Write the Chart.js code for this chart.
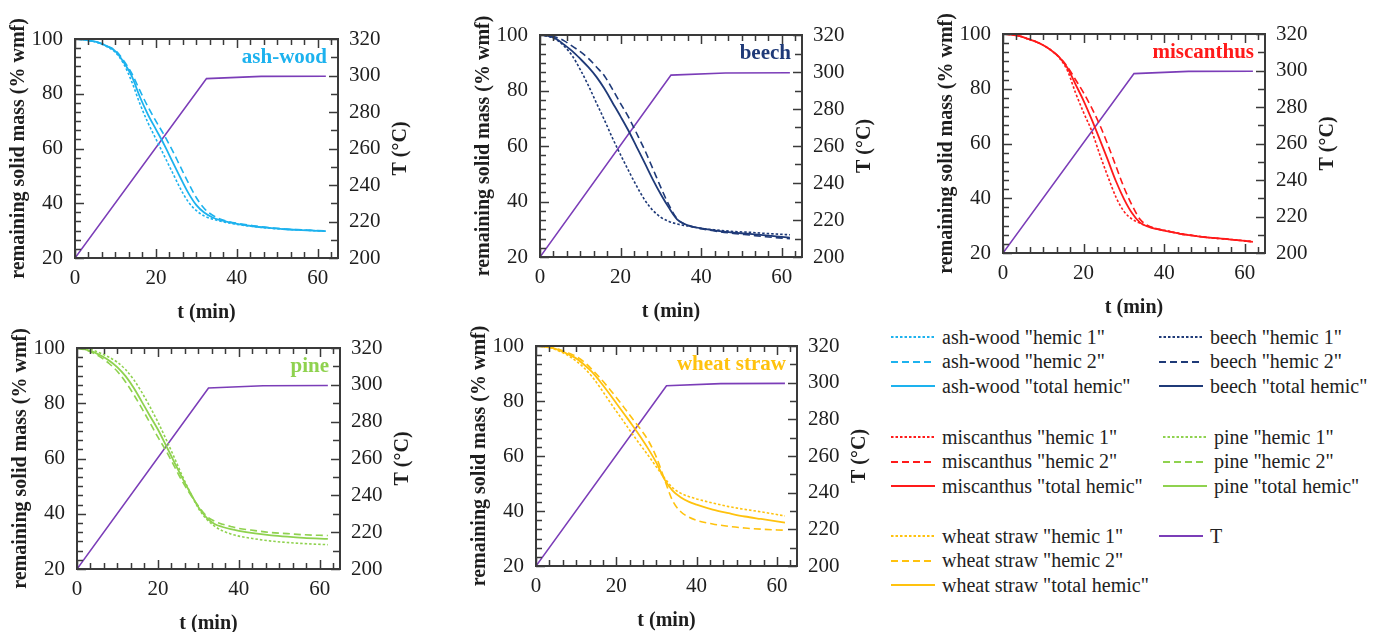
<!DOCTYPE html>
<html><head><meta charset="utf-8">
<script src="https://cdn.jsdelivr.net/npm/chart.js@4.4.1/dist/chart.umd.min.js"></script>
<style>
html,body{margin:0;padding:0;background:#fff;}
body{width:1382px;height:632px;position:relative;overflow:hidden;font-family:'Liberation Serif',serif;}
.lg{position:absolute;height:24px;display:flex;align-items:center;white-space:nowrap;font-size:20px;color:#222;font-family:'Liberation Serif',serif;}
.lg svg{flex:none;}
.lg span{margin-left:7px;}
</style></head>
<body>
<script>
// ---- data ----
const tGrid = [0,2,4,6,8,10,12,14,16,18,20,22,24,26,28,30,32,34,36,38,40,44,48,52,56,62];

const ashHemic1 = [100,99.8,99.3,98.5,97.1,95.1,91,84.5,76.5,69.5,63.5,57.5,51.5,45.5,40.5,37.3,35.3,34.2,33.4,32.8,32.3,31.5,30.9,30.5,30.2,29.8];
const ashHemic2 = [100,99.8,99.3,98.6,97.4,95.8,92.2,87.5,81.3,75.3,70,65,59.5,53.5,47.5,42,38,35.6,34.2,33.3,32.7,31.8,31.1,30.6,30.3,29.9];
const ashTotal  = [100,99.8,99.3,98.6,97.3,95.5,91.6,86.5,79,72.5,67,61.5,55.5,49.5,43.8,39.3,36.5,34.8,33.8,33.1,32.5,31.6,31,30.5,30.2,29.8];

const beechHemic1 = [100,99.5,98.4,96,92.5,87.5,81.8,75.5,69.3,62.8,56.8,51,45.5,40.5,36.8,34.3,32.8,31.9,31.3,30.8,30.3,29.7,29.2,28.9,28.5,28];
const beechHemic2 = [100,99.8,99.2,97.9,96,94,91.6,88.5,85.2,80.4,75.3,70.3,64.5,58.5,51.8,45,38.7,33.8,31.8,30.8,30.2,29.2,28.5,27.9,27.3,26.6];
const beechTotal  = [100,99.7,98.6,96.5,94.2,91.4,88.4,84.9,80.6,75.6,70.6,65.4,59.6,53.8,47.9,42.5,37.7,33.6,31.8,30.9,30.3,29.4,28.8,28.3,27.8,27];

const miscHemic1 = [100,99.8,99.3,98.3,97.3,95.9,94,91.2,86.6,78.5,71.3,64.6,56,48,40.5,35.2,32.4,30.9,29.8,28.9,28.3,27.1,26.2,25.5,25,24.2];
const miscHemic2 = [100,99.8,99.3,98.3,97.3,95.9,94,91.5,88,83.3,78.5,73,66.8,59.6,51.8,44,37.5,32.3,30,28.9,28.2,27,26.2,25.5,25,24.1];
const miscTotal  = [100,99.8,99.3,98.3,97.3,95.9,94,91.5,87.6,81.6,75.6,68.8,61.5,54,46.3,39.8,34.6,31.1,29.6,28.8,28.2,27,26.2,25.5,25,24.1];

const pineHemic1 = [100,99.8,99.2,98,96.6,94.8,92.2,88.6,84,78.8,73.2,67,60.5,53.8,47.6,42,38.1,35.5,33.8,32.7,31.9,30.9,30.1,29.6,29.2,28.8];
const pineHemic2 = [100,99.3,98.2,96.5,94.3,91.5,87.7,83.2,78.2,73,67.7,62.8,57.3,51.8,47,42.8,39.2,37.3,36.2,35.4,34.7,33.9,33.2,32.8,32.4,32.1];
const pineTotal  = [100,99.5,98.6,97.2,95.4,93,89.8,85.6,80.6,75.5,70.5,64.7,58.8,53,47.6,42.4,38.6,36.3,35.2,34.4,33.8,32.9,32.2,31.7,31.3,30.9];

const wheatHemic1 = [100,99.8,99.2,98,96.5,94.5,92,88.8,84.8,80.5,76.3,72.2,68,64,60.1,56,52,48.5,46.5,45.3,44.4,42.9,41.6,40.6,39.7,38.2];
const wheatHemic2 = [100,99.8,99.4,98.6,97.5,96.2,94.2,91.4,88.3,84.9,81.3,77.5,73.6,69.8,65.5,59.5,51.5,43.8,39.8,37.8,36.6,35.3,34.4,33.8,33.4,33];
const wheatTotal  = [100,99.8,99.3,98.3,97,95.5,93.2,90.5,87,83.2,79.2,75.2,71.2,67,62.5,57.5,51.5,47.4,45,43.4,42.3,40.5,39.2,38,37.1,35.8];

const tempTime  = [0,32.5,46,62];
const tempValue = [200,298.3,299.5,299.6];

const xTickValues    = [0,20,40,60];
const massTickValues = [20,40,60,80,100];
const tempTickValues = [200,220,240,260,280,300,320];

const materials  = ['ash-wood','beech','miscanthus','pine','wheat straw'];
const components = ['"hemic 1"','"hemic 2"','"total hemic"'];

// ---- styles ----
const colors = {'ash-wood':'#1db2ee','beech':'#1f3a78','miscanthus':'#ff1a1a','pine':'#8fd24f','wheat straw':'#ffc20e'};
const tempColor = '#7b3db8';
const dashes = [[2.5,2],[7,4],[]];
const frameColor = '#3a3a3a';
const textColor = '#1e1e1e';
const FONT = "'Liberation Serif', serif";

const series = {
  'ash-wood':[ashHemic1,ashHemic2,ashTotal],
  'beech':[beechHemic1,beechHemic2,beechTotal],
  'miscanthus':[miscHemic1,miscHemic2,miscTotal],
  'pine':[pineHemic1,pineHemic2,pineTotal],
  'wheat straw':[wheatHemic1,wheatHemic2,wheatTotal]
};

// plot rectangles in page pixels [left, top, right, bottom]
const layoutRects = {
  'ash-wood':[75,39,338,258],
  'beech':[540,35,802,257],
  'miscanthus':[1003,34,1265,253],
  'pine':[77,348,340,569],
  'wheat straw':[536,346,797,566]
};

const decor = {
  id:'decor',
  afterDatasetsDraw(chart, args, opts){
    const {ctx, chartArea:a, scales} = chart;
    const x = scales.x, y = scales.y, y2 = scales.y2;
    ctx.save();
    ctx.strokeStyle = frameColor;
    ctx.lineWidth = 1.5;
    ctx.beginPath();
    for (let i=0;;i++){
      const v = i*20/6; if (v > x.max) break;
      const px = Math.round(x.getPixelForValue(v))+0.5;
      const len = (i%6===0)?9:6;
      ctx.moveTo(px,a.bottom); ctx.lineTo(px,a.bottom-len);
      ctx.moveTo(px,a.top); ctx.lineTo(px,a.top+len);
    }
    for (let i=0;;i++){
      const v = y.min + i*20/6; if (v > y.max+0.01) break;
      const py = Math.round(y.getPixelForValue(v))+0.5;
      const len = (i%6===0)?9:6;
      ctx.moveTo(a.left,py); ctx.lineTo(a.left+len,py);
    }
    for (let i=0;;i++){
      const v = y2.min + i*10; if (v > y2.max+0.01) break;
      const py = Math.round(y2.getPixelForValue(v))+0.5;
      const len = (i%2===0)?9:7;
      ctx.moveTo(a.right,py); ctx.lineTo(a.right-len,py);
    }
    ctx.stroke();
    ctx.lineWidth = 2;
    ctx.strokeRect(a.left, a.top, a.right-a.left, a.bottom-a.top);
    ctx.fillStyle = opts.color;
    ctx.font = "bold 21px " + FONT;
    ctx.textAlign = 'right';
    ctx.textBaseline = 'middle';
    ctx.fillText(opts.label, a.right-11, a.top+19);
    ctx.fillStyle = textColor;
    ctx.font = "bold 20px " + FONT;
    ctx.translate(a.right+63, (a.top+a.bottom)/2);
    ctx.rotate(-Math.PI/2);
    ctx.textAlign = 'center';
    ctx.fillText('T (°C)', 0, 0);
    ctx.restore();
  }
};

function pts(xs, ys){ return xs.map((t,i)=>({x:t,y:ys[i]})); }

function makePanel(name){
  const r = layoutRects[name];
  const padTop = 30, axL = 75, axR = 85, axB = 70;
  const w = (r[2]-r[0]) + axL + axR;
  const h = (r[3]-r[1]) + padTop + axB;
  const canvas = document.createElement('canvas');
  canvas.width = w; canvas.height = h;
  canvas.style.cssText = `position:absolute;left:${r[0]-axL}px;top:${r[1]-padTop}px;width:${w}px;height:${h}px;`;
  document.body.appendChild(canvas);
  const col = colors[name];
  const datasets = series[name].map((arr,k)=>({
    label: name+' '+components[k],
    data: pts(tGrid, arr),
    borderColor: col, borderWidth: k===2?1.8:1.6, borderDash: dashes[k],
    cubicInterpolationMode:'monotone', pointRadius:0, fill:false,
    xAxisID:'x', yAxisID:'y'
  }));
  datasets.push({
    label:'T', data: pts(tempTime, tempValue), borderColor: tempColor, borderWidth:1.6,
    tension:0, pointRadius:0, fill:false, xAxisID:'x', yAxisID:'y2'
  });
  const tickFont = {family:FONT, size:21};
  const noGrid = {display:false, drawTicks:false, tickLength:0};
  new Chart(canvas, {
    type:'line',
    data:{datasets},
    options:{
      responsive:false, animation:false, devicePixelRatio:1,
      layout:{padding:{top:padTop,left:0,right:0,bottom:0}},
      plugins:{legend:{display:false}, tooltip:{enabled:false}, decor:{label:name, color:col}},
      scales:{
        x:{type:'linear', position:'bottom', min:0, max:65,
           afterFit(s){ s.height = axB; },
           afterBuildTicks(s){ s.ticks = xTickValues.map(v=>({value:v})); },
           ticks:{font:tickFont, color:textColor, padding:8, maxRotation:0},
           grid:noGrid, border:{display:false},
           title:{display:true, text:'t (min)', color:textColor, font:{family:FONT,size:20,weight:'bold',lineHeight:1.2}, padding:{top:0,bottom:3}}},
        y:{type:'linear', position:'left', min:20, max:100,
           afterFit(s){ s.width = axL; },
           afterBuildTicks(s){ s.ticks = massTickValues.map(v=>({value:v})); },
           ticks:{font:tickFont, color:textColor, padding:12},
           grid:noGrid, border:{display:false},
           title:{display:true, text:'remaining solid mass (% wmf)', color:textColor, font:{family:FONT,size:20,weight:'bold',lineHeight:1.2}, padding:{top:7,bottom:0}}},
        y2:{type:'linear', position:'right', min:200, max:320,
           afterFit(s){ s.width = axR; },
           afterBuildTicks(s){ s.ticks = tempTickValues.map(v=>({value:v})); },
           ticks:{font:tickFont, color:textColor, padding:11},
           grid:noGrid, border:{display:false}}
      }
    },
    plugins:[decor]
  });
}

materials.forEach(makePanel);

// ---- legend (HTML) ----
const legendGroups = [
  {name:'ash-wood', x:891, y0:337},
  {name:'beech', x:1159, y0:337},
  {name:'miscanthus', x:891, y0:437},
  {name:'pine', x:1163, y0:437},
  {name:'wheat straw', x:891, y0:536}
];
const rowGap = 24.5;
function legendItem(x, yc, color, dash, text){
  const d = document.createElement('div');
  d.className = 'lg';
  d.style.left = x+'px'; d.style.top = (yc-12)+'px';
  const da = dash.length ? `stroke-dasharray="${dash.join(' ')}"` : '';
  d.innerHTML = `<svg width="44" height="24"><line x1="0" y1="12" x2="44" y2="12" stroke="${color}" stroke-width="2" ${da}/></svg><span></span>`;
  d.querySelector('span').textContent = text;
  document.body.appendChild(d);
}
legendGroups.forEach(g=>{
  components.forEach((c,k)=>{
    legendItem(g.x, g.y0 + k*rowGap, colors[g.name], dashes[k], g.name+' '+c);
  });
});
legendItem(1159, 536, tempColor, [], 'T');
</script>
</body></html>
